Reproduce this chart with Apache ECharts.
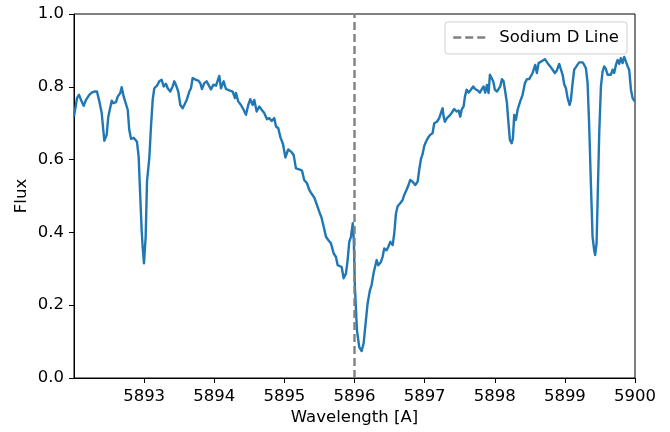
<!DOCTYPE html>
<html>
<head>
<meta charset="utf-8">
<script src="https://cdn.jsdelivr.net/npm/echarts@6/dist/echarts.min.js"></script>
<style>
  html, body { margin: 0; padding: 0; background: #ffffff; }
  #chart { width: 670px; height: 432px; }
</style>
</head>
<body>
<div id="chart"></div>
<script>
// Wavelength samples (Angstrom)
const wavelength = [
  5892.000, 5892.043, 5892.071, 5892.100, 5892.138, 5892.171, 5892.218, 5892.252, 5892.289, 5892.328,
  5892.361, 5892.395, 5892.432, 5892.466, 5892.489, 5892.513, 5892.538, 5892.560, 5892.599, 5892.623,
  5892.660, 5892.680, 5892.709, 5892.731, 5892.766, 5892.788, 5892.813, 5892.851, 5892.874, 5892.898,
  5892.922, 5892.945, 5892.965, 5892.979, 5892.998, 5893.022, 5893.041, 5893.074, 5893.098, 5893.122,
  5893.145, 5893.183, 5893.216, 5893.250, 5893.279, 5893.312, 5893.336, 5893.373, 5893.407, 5893.430,
  5893.454, 5893.487, 5893.516, 5893.550, 5893.573, 5893.607, 5893.644, 5893.668, 5893.692, 5893.715,
  5893.739, 5893.772, 5893.801, 5893.825, 5893.858, 5893.892, 5893.920, 5893.953, 5893.989, 5894.025,
  5894.049, 5894.072, 5894.096, 5894.134, 5894.167, 5894.214, 5894.263, 5894.295, 5894.310, 5894.342,
  5894.381, 5894.419, 5894.452, 5894.485, 5894.514, 5894.548, 5894.571, 5894.605, 5894.642, 5894.676,
  5894.713, 5894.752, 5894.784, 5894.819, 5894.856, 5894.880, 5894.913, 5894.944, 5894.980, 5895.015,
  5895.055, 5895.094, 5895.132, 5895.165, 5895.212, 5895.251, 5895.283, 5895.322, 5895.355, 5895.389,
  5895.426, 5895.465, 5895.497, 5895.532, 5895.560, 5895.593, 5895.626, 5895.664, 5895.703, 5895.735,
  5895.760, 5895.782, 5895.817, 5895.845, 5895.878, 5895.902, 5895.925, 5895.949, 5895.975, 5895.990,
  5896.006, 5896.035, 5896.068, 5896.102, 5896.130, 5896.153, 5896.187, 5896.220, 5896.244, 5896.273,
  5896.291, 5896.316, 5896.339, 5896.377, 5896.401, 5896.424, 5896.458, 5896.481, 5896.510, 5896.544,
  5896.567, 5896.591, 5896.615, 5896.652, 5896.686, 5896.709, 5896.743, 5896.766, 5896.795, 5896.829,
  5896.866, 5896.900, 5896.923, 5896.947, 5896.971, 5896.994, 5897.019, 5897.051, 5897.080, 5897.114,
  5897.137, 5897.175, 5897.208, 5897.232, 5897.257, 5897.271, 5897.289, 5897.318, 5897.351, 5897.385,
  5897.422, 5897.456, 5897.485, 5897.508, 5897.528, 5897.556, 5897.575, 5897.599, 5897.627, 5897.660,
  5897.693, 5897.721, 5897.756, 5897.788, 5897.817, 5897.841, 5897.864, 5897.888, 5897.912, 5897.931,
  5897.955, 5897.978, 5898.002, 5898.031, 5898.055, 5898.078, 5898.102, 5898.126, 5898.149, 5898.174,
  5898.192, 5898.216, 5898.241, 5898.259, 5898.278, 5898.302, 5898.326, 5898.363, 5898.397, 5898.430,
  5898.459, 5898.491, 5898.516, 5898.540, 5898.563, 5898.577, 5898.601, 5898.625, 5898.648, 5898.668,
  5898.691, 5898.715, 5898.754, 5898.791, 5898.825, 5898.858, 5898.886, 5898.919, 5898.943, 5898.968,
  5898.990, 5899.015, 5899.039, 5899.067, 5899.086, 5899.110, 5899.133, 5899.157, 5899.181, 5899.204,
  5899.229, 5899.253, 5899.276, 5899.300, 5899.324, 5899.347, 5899.371, 5899.395, 5899.418, 5899.432,
  5899.452, 5899.467, 5899.490, 5899.514, 5899.538, 5899.561, 5899.585, 5899.609, 5899.632, 5899.656,
  5899.681, 5899.703, 5899.728, 5899.752, 5899.775, 5899.799, 5899.823, 5899.846, 5899.870, 5899.895,
  5899.917, 5899.942, 5899.966, 5899.989, 5900.000
];

// Normalised flux at each wavelength sample
const flux = [
  0.718, 0.769, 0.778, 0.764, 0.748, 0.764, 0.778, 0.784, 0.787, 0.787,
  0.760, 0.728, 0.652, 0.668, 0.718, 0.718, 0.762, 0.755, 0.758, 0.773,
  0.783, 0.799, 0.773, 0.775, 0.737, 0.682, 0.657, 0.660, 0.663, 0.649,
  0.608, 0.498, 0.406, 0.360, 0.315, 0.388, 0.540, 0.605, 0.691, 0.764,
  0.796, 0.803, 0.815, 0.819, 0.801, 0.808, 0.796, 0.787, 0.801, 0.815,
  0.805, 0.787, 0.750, 0.741, 0.746, 0.764, 0.787, 0.796, 0.824, 0.828,
  0.819, 0.817, 0.810, 0.794, 0.810, 0.815, 0.810, 0.793, 0.806, 0.803,
  0.817, 0.830, 0.796, 0.815, 0.794, 0.790, 0.787, 0.769, 0.783, 0.760,
  0.750, 0.737, 0.723, 0.750, 0.766, 0.750, 0.764, 0.732, 0.746, 0.737,
  0.728, 0.711, 0.714, 0.706, 0.714, 0.691, 0.686, 0.661, 0.643, 0.606,
  0.628, 0.622, 0.613, 0.576, 0.573, 0.570, 0.544, 0.535, 0.517, 0.506,
  0.496, 0.475, 0.457, 0.439, 0.416, 0.388, 0.379, 0.370, 0.342, 0.333,
  0.310, 0.312, 0.305, 0.274, 0.287, 0.324, 0.374, 0.388, 0.425, 0.379,
  0.250, 0.131, 0.085, 0.074, 0.095, 0.140, 0.205, 0.241, 0.255, 0.289,
  0.287, 0.324, 0.310, 0.319, 0.333, 0.356, 0.351, 0.360, 0.374, 0.365,
  0.397, 0.452, 0.472, 0.480, 0.489, 0.503, 0.517, 0.528, 0.544, 0.539,
  0.530, 0.539, 0.572, 0.601, 0.615, 0.637, 0.649, 0.661, 0.668, 0.673,
  0.700, 0.704, 0.714, 0.728, 0.741, 0.718, 0.704, 0.714, 0.720, 0.728,
  0.739, 0.732, 0.735, 0.718, 0.737, 0.746, 0.773, 0.792, 0.784, 0.792,
  0.801, 0.794, 0.790, 0.784, 0.794, 0.801, 0.784, 0.805, 0.783, 0.833,
  0.824, 0.815, 0.792, 0.787, 0.790, 0.801, 0.821, 0.815, 0.787, 0.755,
  0.709, 0.654, 0.645, 0.659, 0.723, 0.709, 0.737, 0.760, 0.778, 0.810,
  0.821, 0.821, 0.819, 0.838, 0.842, 0.860, 0.838, 0.865, 0.860, 0.870,
  0.865, 0.876, 0.865, 0.856, 0.847, 0.838, 0.845, 0.863, 0.858, 0.833,
  0.807, 0.796, 0.769, 0.750, 0.764, 0.810, 0.847, 0.854, 0.858, 0.867,
  0.863, 0.867, 0.860, 0.851, 0.810, 0.691, 0.535, 0.388, 0.351, 0.338,
  0.370, 0.489, 0.673, 0.801, 0.842, 0.856, 0.849, 0.833, 0.838, 0.833,
  0.847, 0.838, 0.860, 0.874, 0.863, 0.879, 0.865, 0.882, 0.870, 0.856,
  0.847, 0.792, 0.769, 0.762, 0.760
];

const sodiumLine = 5896;
const sodiumLabel = 'Sodium D Line';
const xTicks = [5893, 5894, 5895, 5896, 5897, 5898, 5899, 5900];
const yTicks = [0.0, 0.2, 0.4, 0.6, 0.8, 1.0];
const xTitle = 'Wavelength [A]';
const yTitle = 'Flux';

const spectrum = wavelength.map((w, i) => [w, flux[i]]);
const vline = [[sodiumLine, 0], [sodiumLine, 1]];

const FONT = 'DejaVu Sans';
const FS = 16.5;
const chart = echarts.init(document.getElementById('chart'), null, { renderer: 'canvas' });
chart.setOption({
  backgroundColor: '#ffffff',
  animation: false,
  textStyle: { fontFamily: FONT },
  grid: {
    left: 74, right: 35, top: 14, bottom: 54,
    show: true, borderColor: '#000000', borderWidth: 1, backgroundColor: 'transparent'
  },
  legend: {
    data: [sodiumLabel],
    left: 445, top: 22,
    padding: [7, 8, 8, 7],
    backgroundColor: 'rgba(255,255,255,0.8)',
    borderColor: '#d0d0d0', borderWidth: 1, borderRadius: 3,
    itemWidth: 33, itemHeight: 16, itemGap: 10,
    itemStyle: { opacity: 0 },
    lineStyle: { color: '#808080', width: 2.5, type: [8, 4] },
    textStyle: { fontFamily: FONT, fontSize: FS, color: '#000000', padding: [0, 0, 0, 8] }
  },
  xAxis: {
    type: 'value',
    min: 5892, max: 5900, interval: 1,
    name: xTitle, nameLocation: 'middle', nameGap: 31, nameMoveOverlap: false,
    nameTextStyle: { fontFamily: FONT, fontSize: FS, color: '#000000' },
    axisLine: { show: true, onZero: false, lineStyle: { color: '#000000', width: 1 } },
    axisTick: { show: true, inside: false, length: 5, lineStyle: { color: '#000000', width: 1 }, customValues: xTicks },
    axisLabel: { show: true, margin: 10, fontFamily: FONT, fontSize: FS, color: '#000000', customValues: xTicks,
      formatter: v => String(Math.round(v)) },
    splitLine: { show: false }
  },
  yAxis: {
    type: 'value',
    min: 0, max: 1, interval: 0.2,
    name: yTitle, nameLocation: 'middle', nameGap: 44, nameRotate: 90, nameMoveOverlap: false,
    nameTextStyle: { fontFamily: FONT, fontSize: FS, color: '#000000' },
    axisLine: { show: true, onZero: false, lineStyle: { color: '#000000', width: 1 } },
    axisTick: { show: true, inside: false, length: 5, lineStyle: { color: '#000000', width: 1 }, customValues: yTicks },
    axisLabel: { show: true, margin: 10, fontFamily: FONT, fontSize: FS, color: '#000000', customValues: yTicks,
      formatter: v => Number(v).toFixed(1) },
    splitLine: { show: false }
  },
  series: [
    {
      name: 'Spectrum',
      type: 'line',
      data: spectrum,
      showSymbol: false,
      symbol: 'none',
      lineStyle: { color: '#1f77b4', width: 2.4, join: 'round' },
      itemStyle: { color: '#1f77b4' },
      clip: true,
      z: 2
    },
    {
      name: sodiumLabel,
      type: 'line',
      data: vline,
      showSymbol: false,
      symbol: 'none',
      lineStyle: { color: '#808080', width: 2.4, type: [8, 4] },
      itemStyle: { color: '#808080' },
      z: 3
    }
  ]
});
</script>
</body>
</html>
